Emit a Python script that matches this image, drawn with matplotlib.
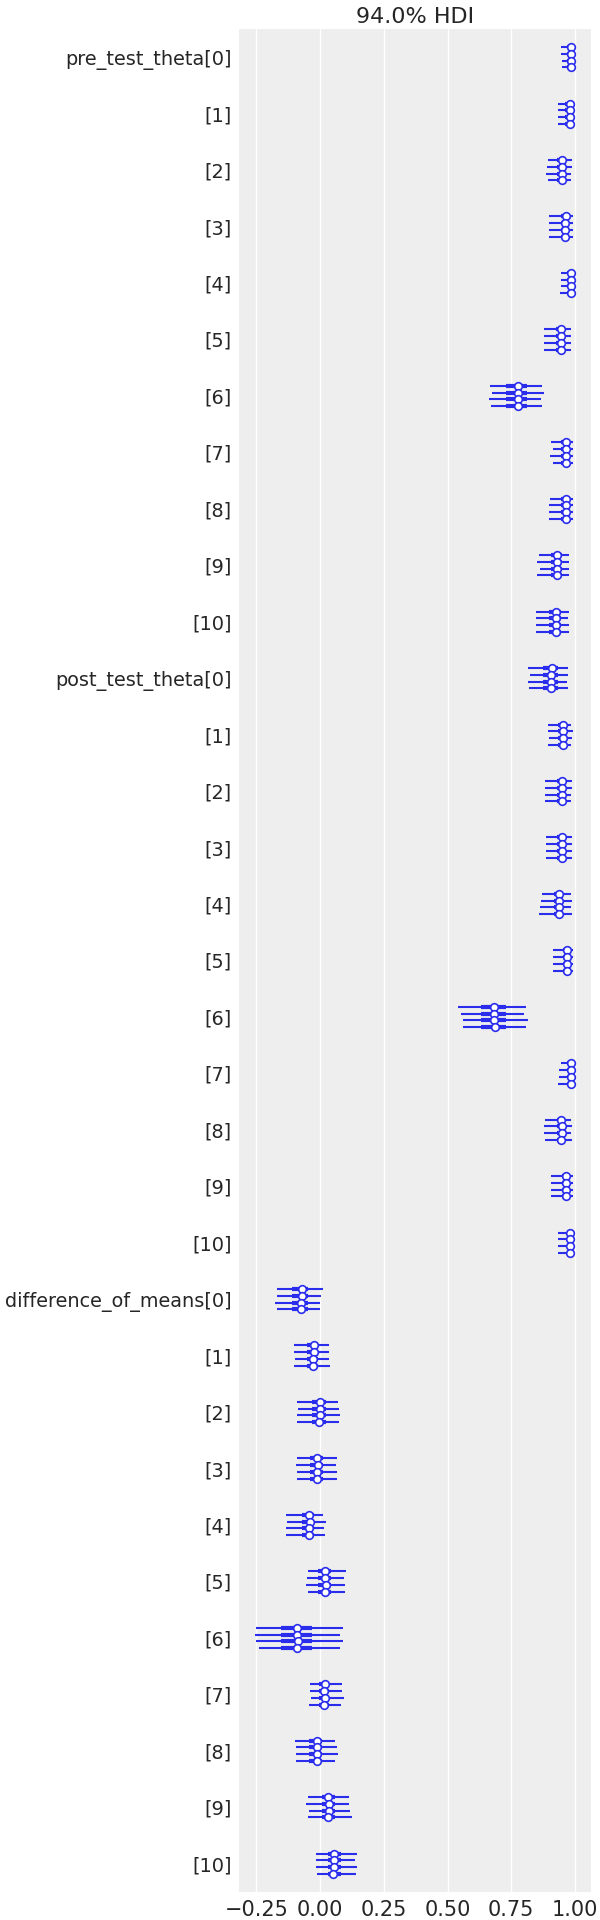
import matplotlib
matplotlib.use("Agg")
import matplotlib.pyplot as plt
import numpy as np

plt.rcParams["font.family"] = "DejaVu Sans"
plt.rcParams["font.size"] = 15

labels = ["pre_test_theta[0]", "[1]", "[2]", "[3]", "[4]", "[5]", "[6]", "[7]", "[8]", "[9]", "[10]",
          "post_test_theta[0]", "[1]", "[2]", "[3]", "[4]", "[5]", "[6]", "[7]", "[8]", "[9]", "[10]",
          "difference_of_means[0]", "[1]", "[2]", "[3]", "[4]", "[5]", "[6]", "[7]", "[8]", "[9]", "[10]"]

# per variable, 4 chains each (top chain first)
median = [
    [0.984, 0.984, 0.984, 0.984], [0.979, 0.979, 0.979, 0.979], [0.948, 0.948, 0.948, 0.948],
    [0.963, 0.961, 0.961, 0.961], [0.983, 0.983, 0.983, 0.983], [0.944, 0.944, 0.944, 0.944],
    [0.776, 0.776, 0.776, 0.776], [0.964, 0.964, 0.964, 0.964], [0.964, 0.964, 0.964, 0.964],
    [0.928, 0.928, 0.928, 0.928], [0.924, 0.924, 0.924, 0.924],
    [0.909, 0.906, 0.906, 0.906], [0.952, 0.952, 0.952, 0.952], [0.948, 0.948, 0.948, 0.948],
    [0.948, 0.948, 0.948, 0.948], [0.937, 0.939, 0.937, 0.937], [0.967, 0.967, 0.967, 0.967],
    [0.684, 0.684, 0.684, 0.686], [0.983, 0.983, 0.983, 0.983], [0.945, 0.948, 0.948, 0.945],
    [0.964, 0.964, 0.964, 0.964], [0.982, 0.982, 0.982, 0.980],
    [-0.072, -0.072, -0.076, -0.076], [-0.025, -0.025, -0.029, -0.029], [-0.001, -0.001, -0.001, -0.005],
    [-0.013, -0.009, -0.013, -0.013], [-0.044, -0.040, -0.044, -0.044], [0.020, 0.020, 0.022, 0.020],
    [-0.090, -0.090, -0.087, -0.090], [0.018, 0.014, 0.018, 0.014], [-0.013, -0.013, -0.013, -0.013],
    [0.030, 0.034, 0.034, 0.030], [0.053, 0.053, 0.053, 0.049],
]
hdi_low = [
    [0.945, 0.945, 0.948, 0.948], [0.934, 0.932, 0.932, 0.932], [0.893, 0.891, 0.886, 0.893],
    [0.900, 0.898, 0.897, 0.900], [0.945, 0.945, 0.945, 0.943], [0.877, 0.879, 0.880, 0.879],
    [0.665, 0.673, 0.661, 0.669], [0.908, 0.912, 0.904, 0.912], [0.904, 0.900, 0.897, 0.900],
    [0.857, 0.853, 0.861, 0.853], [0.849, 0.849, 0.846, 0.849],
    [0.814, 0.822, 0.814, 0.819], [0.893, 0.893, 0.897, 0.893], [0.884, 0.884, 0.882, 0.882],
    [0.888, 0.888, 0.888, 0.888], [0.870, 0.865, 0.861, 0.857], [0.915, 0.915, 0.915, 0.915],
    [0.542, 0.552, 0.561, 0.561], [0.944, 0.939, 0.939, 0.935], [0.884, 0.880, 0.880, 0.884],
    [0.908, 0.908, 0.908, 0.908], [0.935, 0.935, 0.935, 0.935],
    [-0.169, -0.169, -0.178, -0.169], [-0.103, -0.103, -0.099, -0.103], [-0.089, -0.085, -0.089, -0.089],
    [-0.089, -0.095, -0.089, -0.092], [-0.132, -0.128, -0.132, -0.135], [-0.049, -0.053, -0.057, -0.049],
    [-0.253, -0.257, -0.253, -0.241], [-0.040, -0.040, -0.036, -0.044], [-0.099, -0.095, -0.095, -0.095],
    [-0.048, -0.056, -0.044, -0.048], [-0.017, -0.017, -0.017, -0.013],
]
hdi_high = [
    [0.997, 0.997, 0.997, 0.997], [0.995, 0.995, 0.995, 0.995], [0.988, 0.988, 0.986, 0.986],
    [0.992, 0.992, 0.992, 0.992], [0.997, 0.997, 0.997, 0.997], [0.986, 0.986, 0.985, 0.986],
    [0.871, 0.880, 0.867, 0.872], [0.993, 0.993, 0.993, 0.993], [0.993, 0.993, 0.993, 0.993],
    [0.977, 0.977, 0.977, 0.977], [0.977, 0.974, 0.977, 0.977],
    [0.974, 0.974, 0.969, 0.974], [0.984, 0.992, 0.988, 0.984], [0.988, 0.988, 0.984, 0.984],
    [0.988, 0.988, 0.988, 0.988], [0.984, 0.988, 0.984, 0.988], [0.992, 0.992, 0.992, 0.992],
    [0.809, 0.801, 0.816, 0.806], [0.996, 0.996, 0.996, 0.996], [0.984, 0.988, 0.984, 0.988],
    [0.992, 0.992, 0.992, 0.992], [0.996, 0.996, 0.996, 0.996],
    [0.013, 0.005, 0.001, 0.001], [0.033, 0.036, 0.033, 0.040], [0.072, 0.076, 0.079, 0.076],
    [0.068, 0.064, 0.068, 0.068], [0.013, 0.025, 0.017, 0.021], [0.103, 0.095, 0.099, 0.099],
    [0.091, 0.079, 0.091, 0.079], [0.087, 0.087, 0.095, 0.083], [0.060, 0.068, 0.072, 0.060],
    [0.115, 0.115, 0.118, 0.126], [0.146, 0.138, 0.146, 0.142],
]
# interquartile range, one per variable
q25 = [0.968, 0.962, 0.930, 0.945, 0.968, 0.925, 0.730, 0.946, 0.945, 0.905, 0.900,
       0.874, 0.935, 0.930, 0.930, 0.918, 0.955, 0.633, 0.970, 0.928, 0.950, 0.968,
       -0.111, -0.052, -0.030, -0.039, -0.072, -0.007, -0.152, -0.003, -0.042, 0.007, 0.030]
q75 = [0.992, 0.990, 0.965, 0.976, 0.992, 0.962, 0.811, 0.979, 0.978, 0.948, 0.945,
       0.932, 0.968, 0.962, 0.962, 0.955, 0.980, 0.730, 0.990, 0.960, 0.975, 0.990,
       -0.046, -0.007, 0.022, 0.013, -0.022, 0.043, -0.030, 0.035, 0.009, 0.059, 0.082]

color = "#2a2eec"
chain_offsets = [-0.18, -0.06, 0.06, 0.18]

fig = plt.figure(figsize=(6, 19.2), dpi=100)
ax = fig.add_axes([0.398, 0.0146, 0.587, 0.9703])
ax.set_facecolor("#eeeeee")

for i in range(len(labels)):
    for c, off in enumerate(chain_offsets):
        y = i + off
        ax.plot([hdi_low[i][c], hdi_high[i][c]], [y, y], color=color, lw=1.5, solid_capstyle="butt", zorder=3)
        ax.plot([q25[i], q75[i]], [y, y], color=color, lw=3.0, solid_capstyle="butt", zorder=3)
        ax.plot(median[i][c], y, "o", ms=5.5, mfc="white", mec=color, mew=1.2, zorder=4)

ax.set_xlim(-0.319, 1.063)
ax.set_ylim(len(labels) - 0.5, -0.5)
ax.set_xticks([-0.25, 0.0, 0.25, 0.5, 0.75, 1.0])
ax.set_yticks(np.arange(len(labels)))
ax.set_yticklabels(labels)
ax.grid(axis="x", color="white", lw=1.0)
ax.grid(axis="y", visible=False)
ax.set_axisbelow(True)
for s in ax.spines.values():
    s.set_visible(False)
ax.tick_params(axis="both", length=0, colors="#262626")
ax.tick_params(axis="y", pad=5, labelsize=13.9)
ax.tick_params(axis="x", pad=6, labelsize=15)
ax.set_title("94.0% HDI", fontsize=16, color="#262626", pad=4)

fig.savefig("out.png", dpi=100)
